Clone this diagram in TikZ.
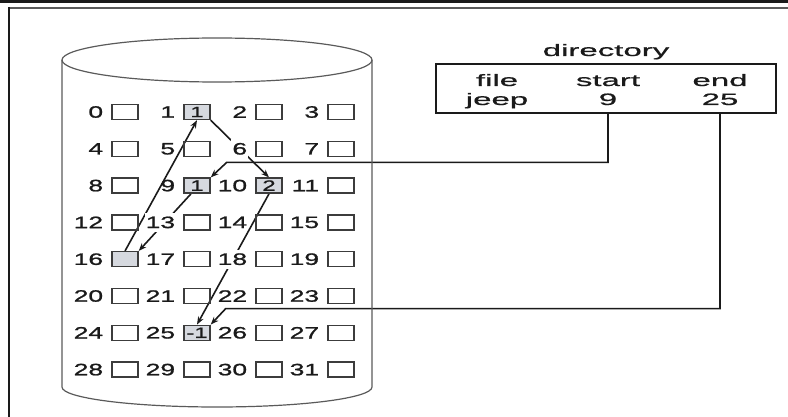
\documentclass[tikz,border=0pt]{standalone}
\usepackage{fontspec}
\usetikzlibrary{arrows.meta,backgrounds,calc}
\newfontfamily\gridsf[FakeStretch=1.6,FakeBold=1.2]{Liberation Sans}
\newfontfamily\dirsf[FakeStretch=2.0,FakeBold=0.8]{Liberation Sans}
\definecolor{ink}{HTML}{1A1A1A}
\definecolor{rim}{HTML}{5A5A5A}
\definecolor{usedfill}{HTML}{D6D9DF}

\begin{document}
\begin{tikzpicture}[x=1pt,y=-1pt,>={Stealth[length=8pt,width=6pt]},
  blk/.style={draw=ink!85,line width=1.4pt,minimum width=26pt,minimum height=15pt,
              inner sep=0pt,font=\gridsf\fontsize{15}{15}\selectfont,text=ink},
  usedblk/.style={blk,fill=usedfill},
  num/.style={anchor=east,inner sep=1pt,font=\gridsf\fontsize{16.5}{16.5}\selectfont,text=ink},
  cut/.style={num,fill=white,inner ysep=3.5pt},
  link/.style={->,ink,line width=1.6pt},
  dirtxt/.style={anchor=base,inner sep=1pt,font=\dirsf\fontsize{16.5}{16.5}\selectfont,text=ink}]
\useasboundingbox (0,0) rectangle (788,417);
% page frame
\draw[ink,line width=3pt] (0,1.5) -- (788,1.5);
\draw[rim,line width=1.5pt] (8,8) -- (788,8);
\draw[ink,line width=2pt] (8.5,7.5) -- (8.5,417);
% disk
\draw[rim,line width=1.2pt] (217,60) ellipse [x radius=155,y radius=22];
\draw[rim,line width=1.2pt] (62,60) -- (62,387)
  arc[start angle=180,end angle=0,x radius=155,y radius=20] -- (372,60);
% blocks
\foreach \n in {0,...,31} {
  \pgfmathsetmacro\cx{125+72*mod(\n,4)}
  \pgfmathsetmacro\cy{112+36.8*floor(\n/4)}
  \coordinate (c\n) at (\cx,\cy);
}
\foreach \n in {0,2,3,4,5,6,7,8,11,12,13,14,15,17,18,19,20,21,22,23,24,26,27,28,29,30,31}
  \node[blk] (b\n) at (c\n) {};
\foreach \n/\v in {1/1,9/1,10/2,16/{},25/-1}
  \node[usedblk] (b\n) at (c\n) {\v};
\foreach \n in {0,1,2,3,4,5,7,8,9,10,11,12,14,15,16,17,19,20,21,22,23,24,25,26,27,28,29,30,31}
  \node[num] (l\n) at ($(b\n.west)+(-7,0)$) {\n};
\foreach \n in {6,13,18}
  \node[cut] (l\n) at ($(b\n.west)+(-7,0)$) {\n};
% directory
\node[draw=ink,line width=1.4pt,minimum width=340pt,minimum height=49pt] (dirbox) at (606,88.5) {};
\node[dirtxt] (dtitle) at (606,56) {directory};
\node[dirtxt] (dfile) at (497,86) {file};
\node[dirtxt] (djeep) at (497,105) {jeep};
\node[dirtxt] (dstart) at (608,86) {start};
\node[dirtxt] (dnine) at (608,105) {9};
\node[dirtxt] (dend) at (720,86) {end};
\node[dirtxt] (dlast) at (720,105) {25};
\coordinate (startbend) at ($(b9.north east)+(16,-15)$);
\coordinate (endbend) at ($(b25.north east)+(15,-16)$);
\begin{scope}[on background layer]
  \draw[link] (dnine.center |- dirbox.south) |- (startbend) -- (b9.north east);
  \draw[link] (dlast.center |- dirbox.south) |- (endbend) -- (b25.north east);
  \draw[link] ($(b9.south)+(-6,0)$) -- (b16.north east);
  \draw[link] (b16.north) -- (b1.south);
  \draw[link] (b1.south east) -- (b10.north);
  \draw[link] (b10.south) -- (b25.north);
\end{scope}
\end{tikzpicture}
\end{document}
